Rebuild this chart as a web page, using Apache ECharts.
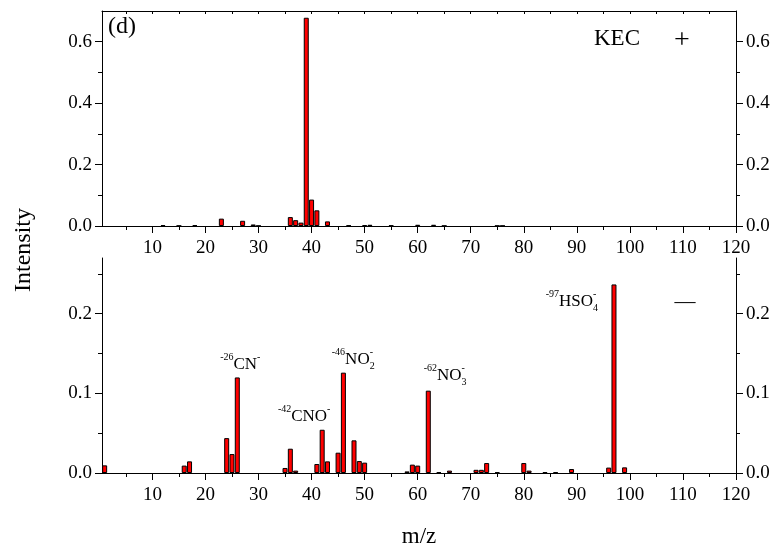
<!DOCTYPE html>
<html>
<head>
<meta charset="utf-8">
<title>KEC mass spectrum</title>
<script src="https://cdn.jsdelivr.net/npm/echarts@6/dist/echarts.min.js"></script>
<style>
    html, body { margin: 0; padding: 0; background: #fff; }
    #main { width: 780px; height: 555px; }
</style>
</head>
<body>
<div id="main"></div>
<script>
// positive ion spectrum (top panel)
var posMz  = [12, 15, 18, 23, 27, 29, 30, 36, 37, 38, 39, 40, 41, 43, 47, 50, 51, 55, 60, 63, 65, 75, 76];
var posInt = [0.003, 0.001, 0.003, 0.024, 0.017, 0.005, 0.001, 0.029, 0.019, 0.011, 0.678, 0.086, 0.051, 0.015,
              0.002, 0.003, 0.004, 0.002, 0.004, 0.004, 0.001, 0.001, 0.001];

// negative ion spectrum (bottom panel)
var negMz  = [1, 16, 17, 24, 25, 26, 35, 36, 37, 41, 42, 43, 45, 46, 48, 49, 50, 58, 59, 60, 62, 64, 66,
              71, 72, 73, 75, 80, 81, 84, 86, 89, 96, 97, 99];
var negInt = [0.0096, 0.0093, 0.0146, 0.0438, 0.0238, 0.120, 0.0063, 0.0305, 0.003, 0.0113, 0.0543, 0.0146,
              0.0255, 0.126, 0.041, 0.015, 0.013, 0.002, 0.0105, 0.0093, 0.1034, 0.001, 0.003,
              0.004, 0.004, 0.0125, 0.001, 0.0125, 0.003, 0.001, 0.001, 0.005, 0.0068, 0.2368, 0.0071];

// annotated negative ions
var ionMz   = [26, 42, 46, 62, 97];
var ionBase = ['CN', 'CNO', 'NO', 'NO', 'HSO'];
var ionSub  = ['', '', '2', '3', '4'];

// tick labels
var xMajor   = [10, 20, 30, 40, 50, 60, 70, 80, 90, 100, 110, 120];
var xMinor   = [5, 15, 25, 35, 45, 55, 65, 75, 85, 95, 105, 115];
var yTopTick = [0, 0.2, 0.4, 0.6];
var yBotTick = [0, 0.1, 0.2];

var serif = 'Liberation Serif, Times New Roman, serif';

// label placement for the annotated ions, [dx, dy]
var ionOffset = { 26: [3, 0], 42: [-18, 0], 46: [9, 0], 62: [16, -2], 97: [-43, 30] };

var chart = echarts.init(document.getElementById('main'));

function ionText(i) {
    var s = '{sup|-' + ionMz[i] + '}{main|' + ionBase[i] + '}';
    if (ionSub[i]) {
        s += '{sub|' + ionSub[i] + '}';
    }
    return s + '{sup|-}';
}

function buildPos() {
    var d = [];
    for (var i = 0; i < posMz.length; i++) {
        d.push([posMz[i], posInt[i]]);
    }
    return d;
}

function buildNeg() {
    var d = [];
    for (var i = 0; i < negMz.length; i++) {
        var k = ionMz.indexOf(negMz[i]);
        if (k < 0) {
            d.push([negMz[i], negInt[i]]);
        } else {
            d.push({
                value: [negMz[i], negInt[i]],
                label: {
                    show: true,
                    position: 'top',
                    distance: 1,
                    offset: ionOffset[negMz[i]],
                    formatter: ionText(k)
                }
            });
        }
    }
    return d;
}

function xAxisMain(grid) {
    return {
        type: 'value', gridIndex: grid, position: 'bottom', min: 0.5, max: 120,
        axisLine: { show: true, onZero: false, lineStyle: { color: '#000', width: 1 } },
        axisTick: { show: true, inside: false, length: 7, customValues: xMajor, lineStyle: { color: '#000' } },
        axisLabel: { customValues: xMajor, margin: 13, color: '#000', fontFamily: serif, fontSize: 19 },
        splitLine: { show: false }
    };
}

function xAxisMinor(grid) {
    return {
        type: 'value', gridIndex: grid, position: 'bottom', min: 0.5, max: 120,
        axisLine: { show: false, onZero: false },
        axisTick: { show: true, inside: false, length: 4, customValues: xMinor, lineStyle: { color: '#000' } },
        axisLabel: { show: false },
        splitLine: { show: false }
    };
}

function yAxis(grid, pos, max, interval, ticks) {
    return {
        type: 'value', gridIndex: grid, position: pos, min: 0, max: max, interval: interval,
        axisLine: { show: true, lineStyle: { color: '#000', width: 1 } },
        axisTick: { show: true, inside: false, length: 7, customValues: ticks, lineStyle: { color: '#000' } },
        minorTick: { show: true, splitNumber: 2, length: 4, lineStyle: { color: '#000' } },
        axisLabel: {
            customValues: ticks, margin: 10, color: '#000', fontFamily: serif, fontSize: 19,
            formatter: function (v) { return v.toFixed(1); }
        },
        splitLine: { show: false }
    };
}

var barStyle = { color: '#ff0000', borderColor: '#000', borderWidth: 1 };

var option = {
    animation: false,
    backgroundColor: '#fff',
    grid: [
        { left: 102, right: 44, top: 11, height: 215 },
        { left: 102, right: 44, top: 258, height: 215 }
    ],
    xAxis: [
        xAxisMain(0),
        xAxisMinor(0),
        {
            // top frame of the upper panel
            type: 'value', gridIndex: 0, position: 'top', min: 0.5, max: 120,
            axisLine: { show: true, onZero: false, lineStyle: { color: '#000', width: 1 } },
            axisTick: { show: true, inside: true, length: 3, customValues: xMinor.concat(xMajor.slice(0, 11)), lineStyle: { color: '#000' } },
            axisLabel: { show: false },
            splitLine: { show: false }
        },
        xAxisMain(1),
        xAxisMinor(1)
    ],
    yAxis: [
        yAxis(0, 'left', 0.7, 0.2, yTopTick),
        yAxis(0, 'right', 0.7, 0.2, yTopTick),
        yAxis(1, 'left', 0.27, 0.1, yBotTick),
        yAxis(1, 'right', 0.27, 0.1, yBotTick)
    ],
    series: [
        {
            name: 'positive', type: 'bar', xAxisIndex: 0, yAxisIndex: 0,
            barWidth: 5, itemStyle: barStyle, data: buildPos()
        },
        {
            name: 'negative', type: 'bar', xAxisIndex: 3, yAxisIndex: 2,
            barWidth: 5, itemStyle: barStyle, data: buildNeg(),
            label: {
                color: '#000',
                rich: {
                    main: { fontFamily: serif, fontSize: 17, color: '#000', lineHeight: 24, verticalAlign: 'middle', align: 'left' },
                    sup: { fontFamily: serif, fontSize: 10, color: '#000', lineHeight: 12, verticalAlign: 'top', align: 'left' },
                    sub: { fontFamily: serif, fontSize: 10, color: '#000', lineHeight: 12, verticalAlign: 'bottom', align: 'left', width: 0 }
                }
            }
        }
    ],
    graphic: [
        { type: 'text', x: 122, y: 27, style: { text: '(d)', font: '24px ' + serif, fill: '#000', align: 'center', verticalAlign: 'middle' } },
        { type: 'text', x: 617, y: 39, style: { text: 'KEC', font: '23px ' + serif, fill: '#000', align: 'center', verticalAlign: 'middle' } },
        { type: 'text', x: 682, y: 41, style: { text: '+', font: '28px ' + serif, fill: '#000', align: 'center', verticalAlign: 'middle' } },
        { type: 'text', x: 685, y: 302, style: { text: '\u2014', font: '21px ' + serif, fill: '#000', align: 'center', verticalAlign: 'middle' } },
        { type: 'text', x: 24, y: 250, rotation: Math.PI / 2, style: { text: 'Intensity', font: '24px ' + serif, fill: '#000', align: 'center', verticalAlign: 'middle' } },
        { type: 'text', x: 419, y: 537, style: { text: 'm/z', font: '23px ' + serif, fill: '#000', align: 'center', verticalAlign: 'middle' } }
    ]
};

chart.setOption(option);
</script>
</body>
</html>
